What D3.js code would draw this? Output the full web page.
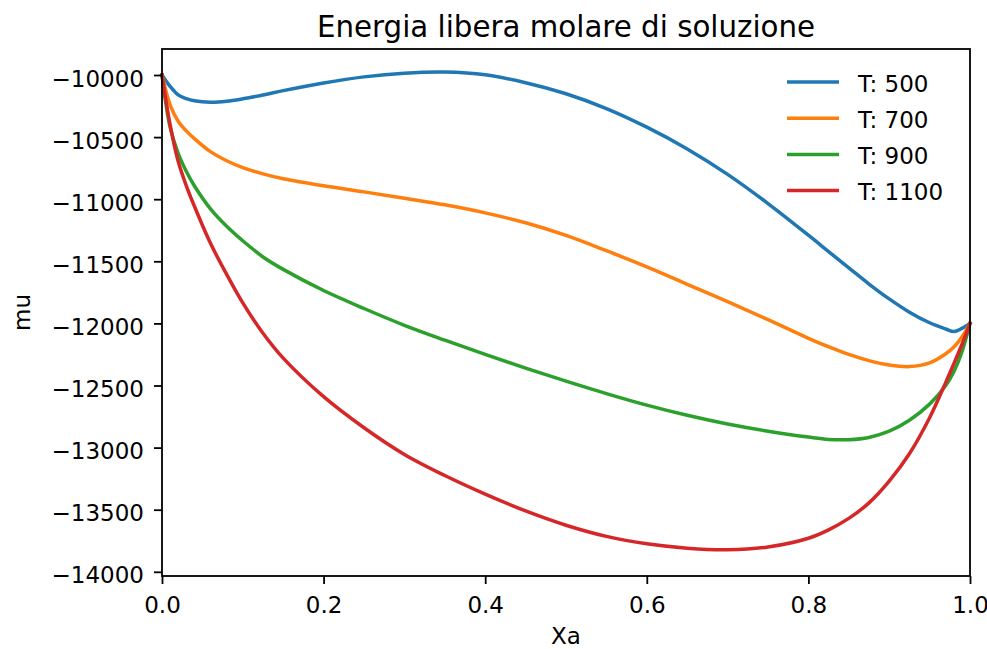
<!DOCTYPE html>
<html>
<head>
<meta charset="utf-8">
<script src="https://cdn.jsdelivr.net/npm/d3@7"></script>
<style>
  html, body { margin: 0; padding: 0; background: #fff; }
  svg { display: block; font-family: 'DejaVu Sans', sans-serif; }
  .graph-axis text { font-family: 'DejaVu Sans', sans-serif; font-size: 23px; fill: #000; }
  .graph-axis line, .graph-axis path { stroke: #000; }
</style>
</head>
<body>
<svg id="chart" width="987" height="649"></svg>
<script>
// values
const xa = [0, 0.01, 0.02, 0.03, 0.04, 0.06, 0.08, 0.1, 0.125, 0.15, 0.2, 0.25, 0.3, 0.35, 0.4, 0.45, 0.5,
  0.55, 0.6, 0.65, 0.7, 0.75, 0.8, 0.825, 0.85, 0.875, 0.9, 0.925, 0.95, 0.97, 0.98, 0.99, 1.0];

const mu500 = [-10000, -10092, -10160, -10190, -10208, -10220, -10212, -10192, -10161, -10126, -10064, -10015, -9985,
  -9976, -9998, -10062, -10151, -10270, -10420, -10595, -10800, -11035, -11290, -11422, -11553, -11683, -11803,
  -11910, -11995, -12045, -12066, -12040, -12000];
const mu700 = [-10000, -10240, -10372, -10450, -10512, -10617, -10690, -10745, -10796, -10835, -10892, -10941, -10992,
  -11045, -11110, -11190, -11292, -11415, -11545, -11685, -11825, -11970, -12120, -12188, -12250, -12300, -12335,
  -12348, -12318, -12244, -12190, -12110, -12000];
const mu900 = [-10000, -10420, -10630, -10775, -10892, -11078, -11218, -11335, -11465, -11565, -11735, -11880, -12015,
  -12135, -12250, -12360, -12465, -12565, -12658, -12740, -12810, -12868, -12915, -12934, -12936, -12918, -12868,
  -12780, -12650, -12500, -12390, -12230, -12000];
const mu1100 = [-10000, -10400, -10695, -10890, -11055, -11355, -11605, -11835, -12080, -12280, -12590, -12840, -13055,
  -13225, -13375, -13510, -13625, -13715, -13775, -13810, -13822, -13800, -13730, -13662, -13570, -13445, -13270,
  -13050, -12760, -12475, -12325, -12170, -12000];

const temps = [500, 700, 900, 1100];
const seriesValues = [mu500, mu700, mu900, mu1100];
const colors = ['#1f77b4', '#ff7f0e', '#2ca02c', '#d62728'];

const xTicks = [0, 0.2, 0.4, 0.6, 0.8, 1.0];
const yTicks = [-14000, -13500, -13000, -12500, -12000, -11500, -11000, -10500, -10000];

const svg = d3.select('#chart');
const plotLeft = 162, plotRight = 970, plotTop = 49, plotBottom = 576;

const xScale = d3.scaleLinear().domain([0, 1]).range([plotLeft, plotRight]);
const yScale = d3.scaleLinear().domain([-14000, -10000]).range([571.8, 75]);

const line = d3.line()
  .x(d => xScale(d.x))
  .y(d => yScale(d.y))
  .curve(d3.curveCatmullRom.alpha(0.5));

seriesValues.forEach((values, i) => {
  const points = xa.map((x, j) => ({ x, y: values[j] }));
  svg.append('path')
    .datum(points)
    .attr('fill', 'none')
    .attr('stroke', colors[i])
    .attr('stroke-width', 3.5)
    .attr('stroke-linejoin', 'round')
    .attr('stroke-linecap', 'square')
    .attr('d', line);
});

// axes
const xAxis = svg.append('g')
  .attr('class', 'graph-axis')
  .attr('transform', `translate(0, ${plotBottom})`)
  .call(d3.axisBottom(xScale).tickValues(xTicks).tickFormat(d3.format('.1f')).tickSizeInner(8).tickSizeOuter(0).tickPadding(8));
xAxis.select('.domain').remove();
xAxis.selectAll('line').attr('stroke-width', 1.8);
xAxis.selectAll('text').attr('dy', null).attr('y', 37);

const yAxis = svg.append('g')
  .attr('class', 'graph-axis')
  .attr('transform', `translate(${plotLeft}, 0)`)
  .call(d3.axisLeft(yScale).tickValues(yTicks).tickFormat(d3.format('d')).tickSizeInner(8).tickSizeOuter(0).tickPadding(10));
yAxis.select('.domain').remove();
yAxis.selectAll('line').attr('stroke-width', 1.8);
yAxis.selectAll('text').attr('dy', null).attr('y', 11);

// frame
svg.append('rect')
  .attr('x', plotLeft)
  .attr('y', plotTop)
  .attr('width', plotRight - plotLeft)
  .attr('height', plotBottom - plotTop)
  .attr('fill', 'none')
  .attr('stroke', '#000')
  .attr('stroke-width', 1.8);

// labels
svg.append('text')
  .attr('x', (plotLeft + plotRight) / 2)
  .attr('y', 37)
  .attr('text-anchor', 'middle')
  .style('font-size', '29.3px')
  .text('Energia libera molare di soluzione');

svg.append('text')
  .attr('x', (plotLeft + plotRight) / 2)
  .attr('y', 644)
  .attr('text-anchor', 'middle')
  .style('font-size', '23px')
  .text('Xa');

svg.append('text')
  .attr('transform', `translate(30, ${(plotTop + plotBottom) / 2}) rotate(-90)`)
  .attr('text-anchor', 'middle')
  .style('font-size', '23px')
  .text('mu');

// legend
const legend = svg.append('g').attr('transform', 'translate(787, 82)');
temps.forEach((t, i) => {
  const row = legend.append('g').attr('transform', `translate(0, ${i * 36.2})`);
  row.append('line')
    .attr('x1', 0).attr('x2', 52)
    .attr('y1', 0).attr('y2', 0)
    .attr('stroke', colors[i])
    .attr('stroke-width', 3.5);
  row.append('text')
    .attr('x', 71)
    .attr('y', 9.5)
    .style('font-size', '23px')
    .text(`T: ${t}`);
});
</script>
</body>
</html>
